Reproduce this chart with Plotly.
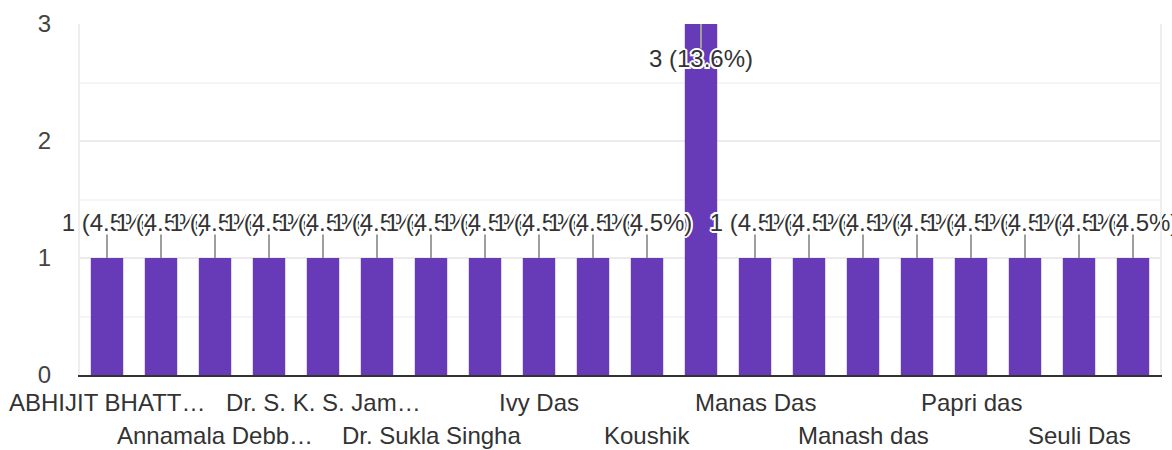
import plotly.graph_objects as go

# ---- data ----
tick_labels = ["ABHIJIT BHATT…", None, "Annamala Debb…", None, "Dr. S. K. S. Jam…", None,
               "Dr. Sukla Singha", None, "Ivy Das", None, "Koushik", None,
               "Manas Das", None, "Manash das", None, "Papri das", None, "Seuli Das", None]
counts = [1, 1, 1, 1, 1, 1, 1, 1, 1, 1, 1, 3, 1, 1, 1, 1, 1, 1, 1, 1]
y_ticks = [0, 1, 2, 3]

# ---- style ----
BAR = "#673ab7"
FONT = "Liberation Sans, Arial, sans-serif"
LBL = 24
TXT = "#333333"
ymax = max(counts)
total = sum(counts)
xs = list(range(len(counts)))

fig = go.Figure()
fig.add_trace(go.Bar(x=xs, y=counts, marker=dict(color=BAR, line=dict(width=0)),
                     hoverinfo="skip"))

# leader lines and labels
lx, ly, tx, ty, tt = [], [], [], [], []
for i, v in zip(xs, counts):
    if v >= ymax:
        end, pos = v - 0.21, v - 0.32
    else:
        end, pos = v + 0.2, v + 0.285
    lx += [i, i, None]
    ly += [v, end, None]
    tx.append(i)
    ty.append(pos)
    tt.append(f"{v} ({v / total * 100:.1f}%)")

fig.add_trace(go.Scatter(x=lx, y=ly, mode="lines", line=dict(color="#9e9e9e", width=2),
                         hoverinfo="skip", cliponaxis=False))
halo = ", ".join(f"{dx}px {dy}px 0 #fff" for dx, dy in
                 [(2, 0), (-2, 0), (0, 2), (0, -2), (1.5, 1.5), (-1.5, -1.5), (1.5, -1.5), (-1.5, 1.5)])
fig.add_trace(go.Scatter(x=tx, y=ty, mode="text", text=tt, textposition="middle center",
                         textfont=dict(family=FONT, size=LBL, color=TXT, shadow=halo),
                         hoverinfo="skip", cliponaxis=False))

# staggered category labels
row = 0
for i, lab in zip(xs, tick_labels):
    if lab is None:
        continue
    fig.add_annotation(x=i, y=0, xref="x", yref="paper", text=lab, showarrow=False,
                       yanchor="middle", xanchor="center", yshift=-27 if row % 2 == 0 else -60,
                       font=dict(family=FONT, size=LBL, color=TXT))
    row += 1

fig.update_layout(
    width=1172, height=450,
    margin=dict(l=80, r=10, t=17, b=75),
    plot_bgcolor="white", paper_bgcolor="white",
    showlegend=False, bargap=0.4,
    font=dict(family=FONT, size=LBL, color=TXT),
)
fig.update_xaxes(range=[-0.5, len(counts) - 0.5], showticklabels=False, showgrid=False,
                 zeroline=False, showline=True, linecolor="#333333", linewidth=2, ticks="")
fig.update_yaxes(range=[0, ymax], tickvals=y_ticks, showgrid=True, gridcolor="#ebebeb",
                 gridwidth=2, zeroline=False, showline=True, mirror=True, linecolor="#eeeeee",
                 linewidth=2, ticks="", ticklabelstandoff=22,
                 tickfont=dict(family=FONT, size=LBL, color="#444444"),
                 minor=dict(dtick=0.5, showgrid=True, gridcolor="#f5f5f5", gridwidth=2))

fig.write_html("out.html", config={"displayModeBar": False},
               post_script="document.body.style.margin='0';document.body.style.overflow='hidden';")
